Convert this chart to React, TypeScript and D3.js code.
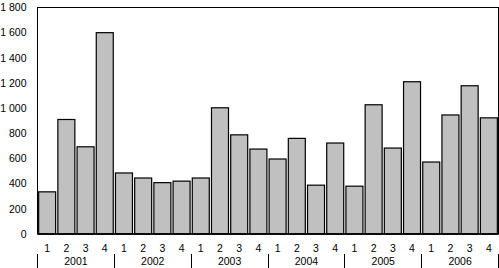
import React from "react";
import * as d3 from "d3";

const years = ["2001", "2002", "2003", "2004", "2005", "2006"];
const quarters = ["1", "2", "3", "4"];
const values = [
  335, 910, 693, 1600,
  485, 445, 408, 420,
  445, 1003, 788, 675,
  596, 760, 388, 723,
  380, 1027, 683, 1210,
  572, 946, 1178, 923,
];
const yTicks = [0, 200, 400, 600, 800, 1000, 1200, 1400, 1600, 1800];

const W = 499;
const H = 268;
const left = 37.5;
const right = 498.5;
const top = 7.5;
const bottom = 234;

export default function App() {
  const cats = years.flatMap((y) => quarters.map((q) => `${y}-${q}`));
  const x = d3.scaleBand<string>().domain(cats).range([left, right]).paddingInner(0.115).paddingOuter(0.06);
  const step = (right - left) / cats.length;
  const y = d3.scaleLinear().domain([0, 1800]).range([bottom, top]);
  const fmt = (v: number) => d3.format(",")(v).replace(",", "\u00a0");
  const font = "'Liberation Sans', Arial, sans-serif";

  return (
    <svg width={W} height={H} style={{ position: "absolute", left: 0, top: 0 }} fontFamily={font}>
      <rect x={0} y={0} width={W} height={H} fill="#fff" />
      {values.map((v, i) => (
        <rect
          key={i}
          x={x(cats[i])!}
          y={y(v)}
          width={x.bandwidth()}
          height={bottom - y(v)}
          fill="#c0c0c0"
          stroke="#000"
          strokeWidth={1.2}
        />
      ))}
      <rect x={left} y={top} width={right - left} height={bottom - top} fill="none" stroke="#000" strokeWidth={1} />
      <line x1={left} x2={right} y1={bottom} y2={bottom} stroke="#000" strokeWidth={1.5} />
      {yTicks.map((t) => (
        <text key={t} x={26.5} y={y(t)} dy="0.35em" textAnchor="end" fontSize={10.5} fill="#000">
          {fmt(t)}
        </text>
      ))}
      {cats.map((c, i) => (
        <text key={c} x={x(c)! + x.bandwidth() / 2} y={252} textAnchor="middle" fontSize={10.5} fill="#000">
          {quarters[i % 4]}
        </text>
      ))}
      {years.map((yr, j) => (
        <text key={yr} x={left + step * (j * 4 + 2)} y={265} textAnchor="middle" fontSize={10.5} fill="#000">
          {yr}
        </text>
      ))}
      {d3.range(years.length + 1).map((j) => {
        const xx = Math.round(left - 0.5 + step * j * 4) + 0.5;
        return <line key={j} x1={xx} x2={xx} y1={254} y2={H} stroke="#000" strokeWidth={1} />;
      })}
    </svg>
  );
}
